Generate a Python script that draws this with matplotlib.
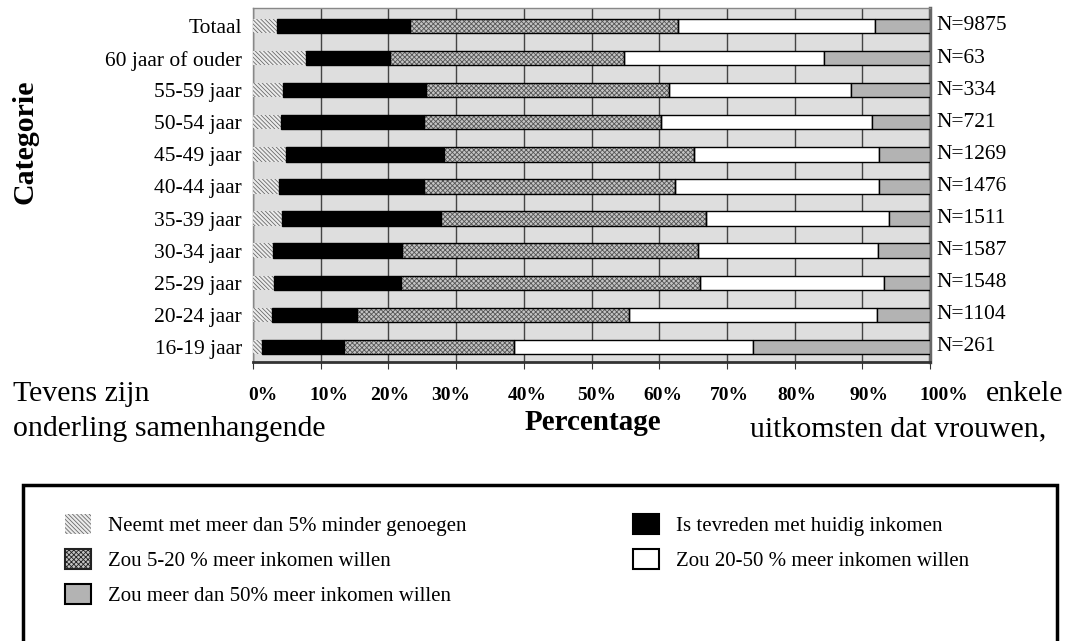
import matplotlib.pyplot as plt
import matplotlib.transforms as mtransforms
import numpy as np
from matplotlib.patches import Patch, Rectangle

plt.rcParams['font.family'] = ['Liberation Serif', 'DejaVu Serif']
plt.rcParams['hatch.linewidth'] = 0.6

categories = ['16-19 jaar', '20-24 jaar', '25-29 jaar', '30-34 jaar', '35-39 jaar',
              '40-44 jaar', '45-49 jaar', '50-54 jaar', '55-59 jaar',
              '60 jaar of ouder', 'Totaal']
n_labels = ['N=261', 'N=1104', 'N=1548', 'N=1587', 'N=1511', 'N=1476',
            'N=1269', 'N=721', 'N=334', 'N=63', 'N=9875']

# percentages per category
minder = [1.4, 2.8, 3.1, 2.9, 4.3, 3.9, 4.9, 4.2, 4.5, 7.8, 3.6]
tevreden = [12.0, 12.5, 18.8, 19.1, 23.4, 21.4, 23.3, 21.1, 21.0, 12.5, 19.6]
meer_5_20 = [25.2, 40.2, 44.1, 43.7, 39.2, 37.0, 37.0, 35.0, 35.9, 34.5, 39.6]
meer_20_50 = [35.3, 36.6, 27.2, 26.6, 27.0, 30.2, 27.3, 31.1, 26.9, 29.6, 29.1]
meer_50 = [26.1, 7.9, 6.8, 7.7, 6.1, 7.5, 7.5, 8.6, 11.7, 15.6, 8.1]

legend_left = ['Neemt met meer dan 5% minder genoegen',
               'Zou 5-20 % meer inkomen willen',
               'Zou meer dan 50% meer inkomen willen']
legend_right = ['Is tevreden met huidig inkomen',
                'Zou 20-50 % meer inkomen willen']

W, H = 1076, 641
fig = plt.figure(figsize=(W / 100, H / 100), dpi=100)
ax = fig.add_axes([253 / W, 1 - 362 / H, 677 / W, 354 / H])
ax.set_facecolor('#dedede')

hatch_a = '\\\\\\\\\\\\\\\\'
hatch_b = 'xxxxxxx'

y = np.arange(len(categories))
h = 0.45
series = [minder, tevreden, meer_5_20, meer_20_50, meer_50]
styles = [
    dict(color='#ececec', hatch=hatch_a, edgecolor='#6a6a6a', linewidth=0),
    dict(color='black', edgecolor='black', linewidth=1),
    dict(color='#c4c4c4', hatch=hatch_b, edgecolor='#555555', linewidth=0),
    dict(color='white', edgecolor='black', linewidth=1),
    dict(color='#b3b3b3', edgecolor='black', linewidth=1),
]
left = np.zeros(len(categories))
for i, (vals, st) in enumerate(zip(series, styles)):
    vals = np.array(vals)
    ax.barh(y, vals, height=h, left=left, zorder=3, **st)
    if i == 2:
        ax.barh(y, vals, height=h, left=left, fill=False,
                edgecolor='black', linewidth=1, zorder=4)
    left += vals

ax.set_xlim(0, 100)
ax.set_ylim(-0.47, 10.56)
ax.set_xticks(np.arange(0, 101, 10))
ax.set_xticklabels([f'{v}%' for v in range(0, 101, 10)], fontsize=14,
                   fontweight='bold')
ax.set_yticks(y)
ax.set_yticklabels(categories, fontsize=15.5)
ax.tick_params(axis='y', length=0, pad=8)
ax.tick_params(axis='x', length=5, direction='out', pad=13, color='#333')
ax.grid(axis='x', color='#444', linewidth=1, zorder=1)
ax.set_axisbelow(True)
for s in ['top', 'left']:
    ax.spines[s].set_color('#888')
    ax.spines[s].set_linewidth(1)
ax.spines['right'].set_color('#666')
ax.spines['right'].set_linewidth(2.5)
ax.spines['bottom'].set_color('#333')
ax.spines['bottom'].set_linewidth(2)

# the scanned tick labels sit a bit right of their ticks, most at both ends
shifts = [10, 8, 1, -5, 3, 5, 4, 2, 2, 7, 14]
for lab, dx in zip(ax.get_xticklabels(), shifts):
    off = mtransforms.ScaledTranslation(dx / 100, 0, fig.dpi_scale_trans)
    lab.set_transform(lab.get_transform() + off)

for yi, lab in zip(y, n_labels):
    ax.text(101, yi, lab, fontsize=15.5, va='center', ha='left', clip_on=False)

fig.text(25 / W, 1 - 142 / H, 'Categorie', rotation=90, fontsize=21.5,
         fontweight='bold', ha='center', va='center')
fig.text(593 / W, 1 - 430 / H, 'Percentage', fontsize=21, fontweight='bold',
         ha='center', va='baseline')

# surrounding body text of the page
fig.text(13 / W, 1 - 401 / H, 'Tevens zijn', fontsize=21.5, va='baseline')
fig.text(1063 / W, 1 - 401 / H, 'enkele', fontsize=21.5, va='baseline', ha='right')
fig.text(13 / W, 1 - 436 / H, 'onderling samenhangende', fontsize=21.5,
         va='baseline')
fig.text(1046 / W, 1 - 436 / H, 'uitkomsten dat vrouwen,', fontsize=21.5,
         va='baseline', ha='right')

fig.patches.append(Rectangle((23 / W, 1 - 646 / H), 1034 / W, 161 / H,
                             transform=fig.transFigure, fill=False,
                             edgecolor='black', linewidth=2.5))

handles_left = [
    Patch(facecolor='#ececec', hatch=hatch_a, edgecolor='#6a6a6a', linewidth=0),
    Patch(facecolor='#c4c4c4', hatch=hatch_b, edgecolor='#222', linewidth=1.5),
    Patch(facecolor='#b3b3b3', edgecolor='black', linewidth=1.5),
]
handles_right = [
    Patch(facecolor='black', edgecolor='black', linewidth=1.5),
    Patch(facecolor='white', edgecolor='black', linewidth=1.5),
]
leg_kw = dict(frameon=False, fontsize=15, loc='upper left', borderpad=0,
              borderaxespad=0, handlelength=1.25, handleheight=1.1,
              handletextpad=0.8, labelspacing=0.62)
fig.legend(handles_left, legend_left, bbox_to_anchor=(65 / W, 1 - 514 / H), **leg_kw)
fig.legend(handles_right, legend_right, bbox_to_anchor=(633 / W, 1 - 514 / H), **leg_kw)

fig.savefig('out.png', dpi=100)
